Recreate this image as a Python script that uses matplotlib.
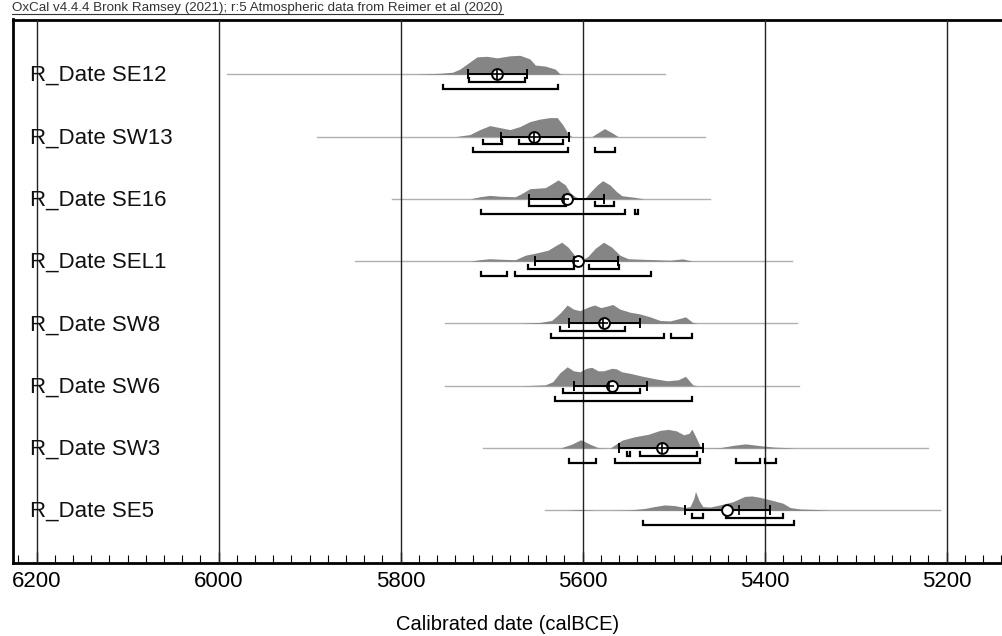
import numpy as np
import matplotlib
matplotlib.use("Agg")
import matplotlib.pyplot as plt

# ==========================================================
# DATA (read off the OxCal multiplot)
# ==========================================================

labels = ["R_Date SE12", "R_Date SW13", "R_Date SE16", "R_Date SEL1",
          "R_Date SW8", "R_Date SW6", "R_Date SW3", "R_Date SE5"]

# full extent of each calibrated distribution (thin line)
thin_start = [5991, 5892, 5810, 5850, 5751, 5751, 5710, 5641]
thin_end = [5510, 5466, 5460, 5370, 5365, 5362, 5220, 5207]

# probability densities (dates calBCE, relative height)
se12_dates = [5784, 5757, 5743, 5735, 5724, 5716, 5705, 5694, 5680, 5669, 5658, 5652, 5641, 5630, 5625, 5621]
se12_dens = [0, 1, 2, 5, 12, 17, 17.5, 16, 18, 18.5, 15, 9, 8, 5, 0.5, 0]

sw13_dates = [5740, 5724, 5713, 5702, 5691, 5680, 5669, 5658, 5647, 5636, 5628, 5622, 5616, 5612,
              5590, 5583, 5576, 5568, 5561]
sw13_dens = [0, 2, 7, 11, 9, 7, 10, 15, 17.5, 19, 19, 12, 3, 0, 0, 4, 8, 4, 0]

se16_dates = [5724, 5713, 5702, 5691, 5674, 5667, 5658, 5641, 5634, 5627, 5619, 5614, 5608, 5603,
              5597, 5592, 5584, 5578, 5570, 5563, 5557, 5543, 5532]
se16_dens = [0, 2, 3.3, 2.5, 2, 5, 9.5, 10.5, 14, 17.7, 13, 6, 2, 0.5, 1, 6, 13, 17, 13, 7, 3, 1.5, 0]

sel1_dates = [5724, 5713, 5702, 5691, 5674, 5663, 5652, 5638, 5629, 5623, 5616, 5608, 5601, 5594,
              5586, 5577, 5568, 5559, 5550, 5537, 5520, 5504, 5490, 5479]
sel1_dens = [0, 1.5, 2.5, 2, 1.5, 6, 8, 11, 16, 19, 14, 5, 1, 5, 13, 19, 14, 6, 2.5, 2, 1.5, 1, 2.3, 0]

sw8_dates = [5669, 5647, 5634, 5625, 5617, 5610, 5603, 5594, 5587, 5580, 5573, 5567, 5559, 5548,
             5537, 5526, 5515, 5504, 5493, 5487, 5479, 5474]
sw8_dens = [0, 1, 3, 10, 18, 14, 12.5, 16, 18, 15.5, 17, 18.5, 14, 11, 9.3, 6.5, 3, 2.5, 5, 6.5, 1, 0]

sw6_dates = [5669, 5641, 5633, 5625, 5617, 5610, 5603, 5596, 5590, 5583, 5577, 5568, 5563, 5557,
             5548, 5534, 5520, 5507, 5495, 5487, 5479, 5474]
sw6_dens = [0, 1, 4, 13, 19, 15, 14, 17.5, 18.5, 15, 15, 17.5, 17, 14, 12.5, 9.5, 7, 5, 6, 9.5, 1, 0]

sw3_dates = [5625, 5612, 5602, 5592, 5583, 5570, 5565, 5557, 5543, 5528, 5515, 5506, 5497, 5489,
             5483, 5480, 5476, 5471, 5467, 5449, 5433, 5421, 5405, 5389, 5374, 5367]
sw3_dens = [0, 4, 8.5, 4, 0.5, 0, 3, 8, 11.5, 14, 18, 19, 17.5, 13.5, 15, 19.3, 12, 2, 0, 0.5, 3,
            4.3, 2.5, 1, 0.5, 0]

se5_dates = [5619, 5603, 5587, 5570, 5548, 5532, 5521, 5510, 5499, 5488, 5482, 5478, 5476, 5472,
             5468, 5460, 5449, 5435, 5422, 5414, 5405, 5394, 5380, 5372, 5361, 5345, 5328]
se5_dens = [0, 1, 0, 0, 0.5, 2, 4, 5.7, 5, 3, 4, 12, 19.7, 10, 4, 3.5, 5.7, 9, 14.5, 15, 13.5, 11,
            7.5, 3, 1.5, 1, 0]

all_dates = [se12_dates, sw13_dates, se16_dates, sel1_dates, sw8_dates, sw6_dates, sw3_dates, se5_dates]
all_dens = [se12_dens, sw13_dens, se16_dens, sel1_dens, sw8_dens, sw6_dens, sw3_dens, se5_dens]

# mu +/- sigma bars, mean (circle), median (cross)
sigma_lo = [5726, 5690, 5659, 5652, 5615, 5610, 5560, 5488]
sigma_hi = [5661, 5615, 5576, 5561, 5537, 5529, 5468, 5394]
means = [5694, 5653, 5617, 5605, 5576, 5568, 5513, 5441]
medians = [5694, 5653, 5621, 5610, 5578, 5571, 5513, 5428]

# highest posterior density ranges
r68 = [[(5725, 5663)],
       [(5709, 5689), (5670, 5622)],
       [(5659, 5618), (5586, 5566)],
       [(5660, 5610), (5593, 5560)],
       [(5625, 5553)],
       [(5622, 5537)],
       [(5551, 5548), (5537, 5474)],
       [(5480, 5468), (5443, 5380)]]
r95 = [[(5753, 5627)],
       [(5721, 5616), (5586, 5565)],
       [(5712, 5554), (5543, 5539)],
       [(5712, 5683), (5674, 5525)],
       [(5635, 5511), (5503, 5480)],
       [(5630, 5480)],
       [(5615, 5585), (5565, 5471), (5432, 5405), (5400, 5388)],
       [(5534, 5368)]]

major_ticks = [6200, 6000, 5800, 5600, 5400, 5200]

title = "OxCal v4.4.4 Bronk Ramsey (2021); r:5 Atmospheric data from Reimer et al (2020)"

# ==========================================================
# STYLE
# ==========================================================

plt.rcParams["font.family"] = ["Liberation Sans", "DejaVu Sans"]

W, H = 1003, 636
ROW_PX = 62.3
PEAK = 19.0 / ROW_PX          # max height of a distribution in row units
OFF68 = 7.5 / ROW_PX
OFF95 = 15.0 / ROW_PX
TICK = 4.0 / ROW_PX

fig = plt.figure(figsize=(W / 100, H / 100), dpi=100)
ax_left, ax_top, ax_bottom = 12.7, 19.5, 563
ax = fig.add_axes([ax_left / W, 1 - ax_bottom / H, 1 - ax_left / W, (ax_bottom - ax_top) / H])

# vertical grid lines
for t in major_ticks:
    ax.axvline(t, color="#222222", lw=1.0, zorder=4)

label_x = (30 - ax_left) / (W - ax_left)

for i, lab in enumerate(labels):
    # thin extent line
    ax.plot([thin_start[i], thin_end[i]], [i, i], color="#b0b0b0", lw=1.0, zorder=1)

    # density
    d = np.array(all_dates[i], dtype=float)
    h = np.array(all_dens[i], dtype=float)
    h = h / h.max() * PEAK
    ax.fill_between(d, i, i - h, color="#858585", lw=0, zorder=2)

    # ranges
    for rng, off in ((r68[i], OFF68), (r95[i], OFF95)):
        for a, b in rng:
            y0 = i + off
            ax.plot([a, a, b, b], [y0 - TICK, y0, y0, y0 - TICK], color="black",
                    lw=1.6, solid_joinstyle="miter", zorder=5)

    # mu +/- sigma
    ax.plot([sigma_lo[i], sigma_hi[i]], [i, i], color="black", lw=1.4, zorder=5)
    for e in (sigma_lo[i], sigma_hi[i]):
        ax.plot([e, e], [i - TICK, i + TICK], color="black", lw=1.4, zorder=5)
    ax.plot(means[i], i, "o", ms=7.8, mfc="white", mec="black", mew=1.4, zorder=6)
    ax.plot(medians[i], i, "+", ms=7.8, color="black", mew=1.2, zorder=7)

    ax.text(label_x, i + 0.02, lab, transform=ax.get_yaxis_transform(),
            fontsize=16, va="center", ha="left", color="#111111", zorder=8)

ax.set_xlim(6226.3, 5138.1)
ax.set_ylim((ax_bottom - 74.3) / ROW_PX, (ax_top - 74.3) / ROW_PX)
ax.set_yticks([])

ax.set_xticks(major_ticks)
ax.set_xticks(np.arange(6220, 5139, -20), minor=True)
ax.tick_params(axis="x", which="major", direction="in", length=8, width=1.0, labelsize=16, pad=6)
ax.tick_params(axis="x", which="minor", direction="in", length=6, width=0.8)
ax.set_xlabel("Calibrated date (calBCE)", fontsize=14.5, labelpad=16)

for s in ("left", "top", "bottom"):
    ax.spines[s].set_linewidth(2.0)
ax.spines["right"].set_visible(False)

t = fig.text(12 / W, 1 - 7.5 / H, title, fontsize=9.6, va="center", ha="left", color="#333333")
# underline the header text like OxCal does
fig.canvas.draw()
bb = t.get_window_extent()
fig.add_artist(plt.Line2D([bb.x0 / W, bb.x1 / W], [1 - 13.5 / H, 1 - 13.5 / H],
                          color="#333333", lw=0.8, transform=fig.transFigure))

fig.savefig("out.png", dpi=100)
print("Saved: out.png")
